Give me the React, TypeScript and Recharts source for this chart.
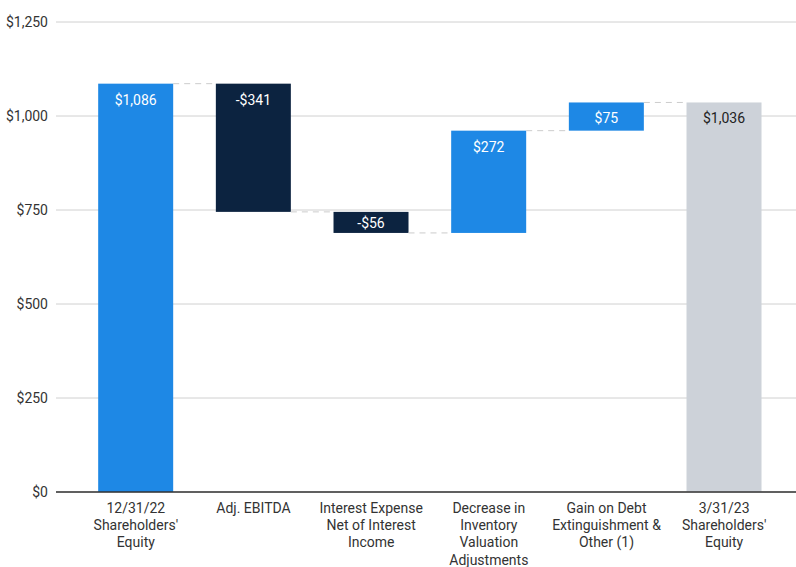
import React from 'react';
import { BarChart, Bar, XAxis, YAxis, CartesianGrid } from 'recharts';

// waterfall steps
const categories = [
  "12/31/22\nShareholders'\nEquity",
  'Adj. EBITDA',
  'Interest Expense\nNet of Interest\nIncome',
  'Decrease in\nInventory\nValuation\nAdjustments',
  'Gain on Debt\nExtinguishment &\nOther (1)',
  "3/31/23\nShareholders'\nEquity",
];
const changes = [1086, -341, -56, 272, 75, 1036];
const kinds = ['start', 'delta', 'delta', 'delta', 'delta', 'end'];
const yTicks = [0, 250, 500, 750, 1000, 1250];

const BLUE = '#1E88E5';
const NAVY = '#0C2340';
const GRAY = '#CDD2D9';
const GAP = 0.18;

const fmt = (v: number) => (v < 0 ? '-$' : '$') + Math.abs(v).toLocaleString('en-US');

let running = 0;
const data = categories.map((name, i) => {
  const v = changes[i];
  let base = 0;
  let span = v;
  if (kinds[i] === 'delta') {
    const next = running + v;
    base = Math.min(running, next);
    span = Math.abs(v);
    running = next;
  } else {
    running = v;
  }
  return { name, base, span, value: v, kind: kinds[i], last: i === categories.length - 1 };
});

const StepShape = (props: any) => {
  const { x, y, width, height, payload } = props;
  const color = payload.kind === 'end' ? GRAY : payload.value < 0 ? NAVY : BLUE;
  const endY = payload.value < 0 && payload.kind === 'delta' ? y + height : y;
  const gap = (width * 2 * GAP) / (1 - 2 * GAP);
  const labelY = Math.min(y + 16, y + height / 2 + 1);
  return (
    <g>
      <rect x={x} y={y} width={width} height={height} fill={color} />
      {!payload.last && (
        <line
          x1={x + width}
          x2={x + width + gap}
          y1={endY}
          y2={endY}
          stroke="#CCCCCC"
          strokeDasharray="6 5"
        />
      )}
      <text
        x={x + width / 2}
        y={labelY}
        textAnchor="middle"
        dominantBaseline="central"
        fontSize={14}
        fill={payload.kind === 'end' ? '#222' : '#fff'}
      >
        {fmt(payload.value)}
      </text>
    </g>
  );
};

const CategoryTick = (props: any) => {
  const { x, y, payload } = props;
  const lines = String(payload.value).split('\n');
  return (
    <text x={x} y={y + 21} textAnchor="middle" fontSize={14} fill="#333">
      {lines.map((l, i) => (
        <tspan key={i} x={x} dy={i === 0 ? 0 : 17.2}>
          {l}
        </tspan>
      ))}
    </text>
  );
};

const App: React.FC = () => {
  return (
    <div style={{ position: 'absolute', left: 0, top: 0, fontFamily: 'Roboto, sans-serif' }}>
      <BarChart
        width={796}
        height={567}
        data={data}
        margin={{ top: 22, right: 0, left: 0, bottom: 0 }}
        barCategoryGap={`${GAP * 100}%`}
      >
        <CartesianGrid vertical={false} stroke="#D0D0D0" />
        <XAxis
          dataKey="name"
          height={75}
          tickLine={false}
          tickSize={0}
          tickMargin={0}
          axisLine={{ stroke: '#333', strokeWidth: 1.3 }}
          tick={<CategoryTick />}
          interval={0}
          padding={{ left: 21, right: 13 }}
        />
        <YAxis
          width={56}
          domain={[0, 1250]}
          ticks={yTicks}
          tickFormatter={fmt}
          axisLine={false}
          tickLine={false}
          tickSize={0}
          tickMargin={8}
          tick={{ fontSize: 14, fill: '#333' }}
        />
        <Bar dataKey="base" stackId="w" fill="transparent" isAnimationActive={false} />
        <Bar dataKey="span" stackId="w" shape={<StepShape />} isAnimationActive={false} />
      </BarChart>
    </div>
  );
};

export default App;
